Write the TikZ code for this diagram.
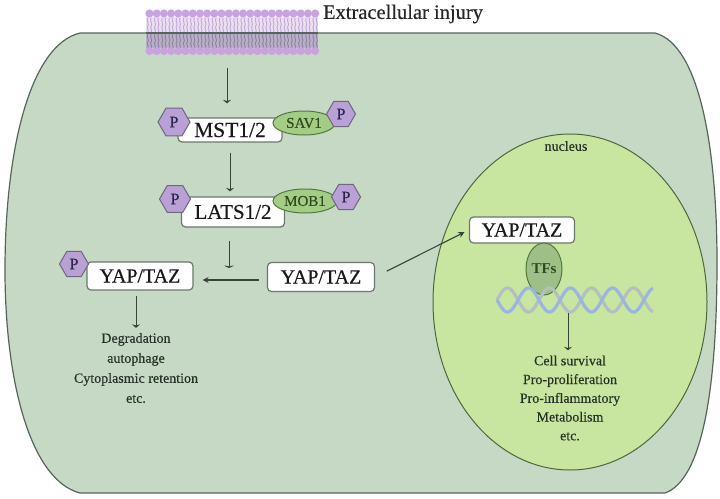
\documentclass[tikz,border=0pt]{standalone}
\usepackage{fontspec}
\setmainfont{Liberation Serif}
\newfontfamily\hv{Liberation Serif}[FakeBold=0.35]
\usetikzlibrary{shapes.geometric,arrows.meta}
\definecolor{cellfill}{HTML}{C6D9C4}
\definecolor{cellline}{HTML}{56655A}
\definecolor{nucfill}{HTML}{C9E6A1}
\definecolor{nucline}{HTML}{4D663C}
\definecolor{boxline}{HTML}{6B786B}
\definecolor{ellfill}{HTML}{A3CC85}
\definecolor{ellline}{HTML}{4F7A3C}
\definecolor{elltxt}{HTML}{2F4A20}
\definecolor{hexfill}{HTML}{B9A1D6}
\definecolor{hexline}{HTML}{6F6680}
\definecolor{ptxt}{HTML}{2C2350}
\definecolor{txt}{HTML}{263226}
\definecolor{arrowc}{HTML}{364336}
\definecolor{headc}{HTML}{C9A3DD}
\definecolor{uptail}{HTML}{EBE0F1}
\definecolor{uptailw}{HTML}{C3A6D8}
\definecolor{lotail}{HTML}{B9AFC6}
\definecolor{lotailw}{HTML}{8E7FA3}
\definecolor{dnaA}{HTML}{9DB4E0}
\definecolor{dnaB}{HTML}{B4BFC4}
\begin{document}
\begin{tikzpicture}[x=1pt,y=-1pt,
  box/.style={draw=boxline,line width=1.2pt,fill=white,rounded corners=4pt,inner sep=0pt,font=\hv\fontsize{20}{22}\selectfont,text=black!90},
  phex/.style={regular polygon,regular polygon sides=6,draw=hexline,line width=1pt,fill=hexfill,inner sep=0pt,font=\hv\fontsize{16}{16}\selectfont,text=ptxt},
  prot/.style={ellipse,draw=ellline,line width=1pt,fill=ellfill,inner sep=0pt,font=\hv\fontsize{15}{15}\selectfont,text=elltxt},
  arr/.style={draw=arrowc,line width=1pt,-{Stealth[width=8pt,length=3.5pt]}},
  arrh/.style={draw=arrowc,line width=1.1pt,-{Stealth[width=6pt,length=6pt]}},
  lbl/.style={text=txt,align=center,inner sep=0pt}]
\useasboundingbox (0,0) rectangle (720,498);
\fill[white] (0,0) rectangle (720,498);
% cell
\draw[cellline,line width=1.2pt,fill=cellfill]
  (80,33) -- (655,33) .. controls (700,45) and (717,150) .. (717,262)
  .. controls (717,390) and (702,480) .. (665,493) -- (80,493)
  .. controls (30,480) and (5,380) .. (5,270)
  .. controls (5,150) and (30,45) .. (80,33) -- cycle;
% membrane
\fill[uptail] (146,17) rectangle (318,32);
\fill[lotail] (146,34) rectangle (318,48);
\foreach \i in {0,...,23}{
  \pgfmathsetmacro\hx{149.5+7.2*\i}
  \draw[uptailw,line width=0.9pt] (\hx-1.7,18) .. controls (\hx-3.5,21) and (\hx+0.2,24) .. (\hx-1.7,26) .. controls (\hx-3.5,28) and (\hx,30) .. (\hx-1.7,32);
  \draw[uptailw,line width=0.9pt] (\hx+1.7,18) .. controls (\hx-0.1,21) and (\hx+3.5,24) .. (\hx+1.7,26) .. controls (\hx-0.1,28) and (\hx+3.4,30) .. (\hx+1.7,32);
  \draw[lotailw,line width=0.9pt] (\hx-1.7,34) .. controls (\hx-3.5,37) and (\hx+0.2,40) .. (\hx-1.7,42) .. controls (\hx-3.5,44) and (\hx,46) .. (\hx-1.7,48);
  \draw[lotailw,line width=0.9pt] (\hx+1.7,34) .. controls (\hx-0.1,37) and (\hx+3.5,40) .. (\hx+1.7,42) .. controls (\hx-0.1,44) and (\hx+3.4,46) .. (\hx+1.7,48);
  \fill[headc] (\hx,13.5) circle (4.1);
  \fill[headc] (\hx,51) circle (4.1);
}
\draw[cellline,line width=1.2pt] (146,33) -- (318,33);
\node[text=black!85,font=\hv\fontsize{20.5}{22}\selectfont,inner sep=0pt] (inj) at (403,14) {Extracellular injury};
% nucleus
\node[ellipse,draw=nucline,line width=1pt,fill=nucfill,minimum width=274pt,minimum height=336pt,inner sep=0pt] (nuc) at (570,302) {};
\node[lbl,font=\hv\fontsize{14}{14}\selectfont] (nuclbl) at (566,146) {nucleus};
% cytoplasm proteins
\node[box,minimum width=104pt,minimum height=24pt,font=\hv\fontsize{21.5}{22}\selectfont] (mst) at (230,130) {MST1/2};
\node[prot,minimum width=62pt,minimum height=24pt] (sav) at (304,123) {SAV1};
\node[phex,minimum size=32pt] (p1) at (174,122) {P};
\node[phex,minimum size=29pt] (p2) at (341,114) {P};
\node[box,minimum width=103pt,minimum height=30pt,font=\hv\fontsize{21}{22}\selectfont] (lats) at (233,212) {LATS1/2};
\node[prot,minimum width=64pt,minimum height=24pt] (mob) at (305,201) {MOB1};
\node[phex,minimum size=31pt] (p3) at (175,199) {P};
\node[phex,minimum size=29pt] (p4) at (346,197) {P};
\node[box,minimum width=106pt,minimum height=28pt] (lyap) at (140,276) {YAP/TAZ};
\node[phex,minimum size=29pt] (p5) at (74,264) {P};
\node[box,minimum width=107pt,minimum height=29pt] (ryap) at (321,277) {YAP/TAZ};
% nucleus content
\node[box,minimum width=105pt,minimum height=26pt] (nyap) at (522,230) {YAP/TAZ};
\node[ellipse,draw=ellline,line width=1pt,fill=ellfill!90!black!90,minimum width=36pt,minimum height=52pt,inner sep=0pt,font=\bfseries\fontsize{15}{15}\selectfont,text=elltxt] (tfs) at (544,269) {TFs};
\draw[dnaB,line width=3.2pt] plot[domain=0:156,samples=200] ({497+\x},{300-12*sin(8.5714*\x)});
\draw[dnaA,line width=3.2pt] plot[domain=0:156,samples=200] ({497+\x},{300+12*sin(8.5714*\x)});
\coordinate (dna) at (568,313);
% texts
\node[lbl,font=\hv\fontsize{14}{20}\selectfont] (ltxt) at (136,368) {Degradation\\autophage\\Cytoplasmic retention\\etc.};
\node[lbl,font=\hv\fontsize{14}{18.75}\selectfont] (ntxt) at (570,398) {Cell survival\\Pro-proliferation\\Pro-inflammatory\\Metabolism\\etc.};
% connectors
\coordinate (memb) at (227,68);
\draw[arr,shorten >=14pt] (memb) -- (memb |- mst.north);
\draw[arr,shorten <=10pt,shorten >=5pt] (mst.south) -- (mst.south |- lats.north);
\coordinate (junc) at (229,268);
\draw[draw=arrowc,line width=1pt,-{Stealth[width=10pt,length=2.5pt]},shorten <=13pt] (lats.south -| junc) -- (junc);
\coordinate (hy) at (0,280);
\draw[arrh,shorten <=8pt,shorten >=9pt] (ryap.west |- hy) -- (lyap.east |- hy);
\draw[arrh,shorten <=13pt,shorten >=5pt] (ryap.east) -- (nyap.west);
\draw[arr,shorten <=5pt] (lyap.south -| ltxt.north) -- ([yshift=5pt]ltxt.north);
\draw[arr] (dna) -- ([yshift=5pt]ntxt.north -| dna);
\end{tikzpicture}
\end{document}
